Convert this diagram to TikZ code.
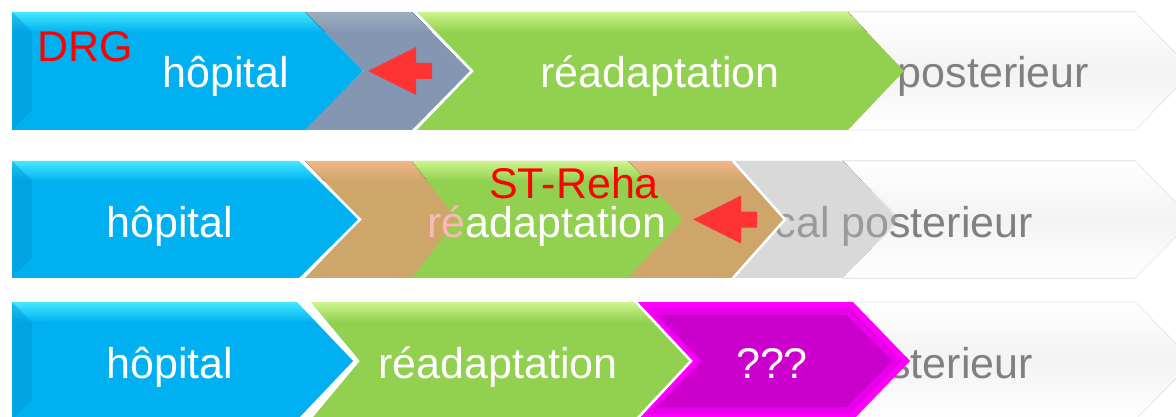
\documentclass[tikz,border=0pt]{standalone}
\usepackage{fontspec}
\setmainfont{Liberation Sans}
\definecolor{bluemain}{RGB}{0,176,240}
\definecolor{bluelight}{RGB}{70,232,255}
\definecolor{bluedark}{RGB}{0,150,212}
\definecolor{greenmain}{RGB}{146,208,80}
\definecolor{greenlight}{RGB}{205,245,140}
\definecolor{greymain}{RGB}{132,151,178}
\definecolor{greylight}{RGB}{158,174,194}
\definecolor{tanmain}{RGB}{206,166,106}
\definecolor{tanlight}{RGB}{242,182,140}
\definecolor{silver}{RGB}{217,217,217}
\definecolor{magout}{RGB}{255,0,255}
\definecolor{magmid}{RGB}{232,0,232}
\definecolor{magin}{RGB}{204,0,204}
\definecolor{txtgrey}{RGB}{128,128,128}
\definecolor{arrowred}{RGB}{255,51,51}
\definecolor{pinkish}{RGB}{250,185,185}
\definecolor{faint}{RGB}{236,236,236}
\definecolor{paleband}{RGB}{243,243,243}
% chevron path: x1, x2 (top corners), top, bottom, notch depth, tip depth
\newcommand\chevp[6]{(#1,#3) -- (#2,#3) -- ({#2+#6},{(#3+#4)/2}) -- (#2,#4) -- (#1,#4) -- ({#1+#5},{(#3+#4)/2}) -- cycle}
% filled chevron with lighter top band: main, light, x1, x2, top, bottom, notch, tip
\newcommand\chev[8]{%
  \begin{scope}
    \clip \chevp{#3}{#4}{#5}{#6}{#7}{#8};
    \fill[#1] (#3,#5) rectangle ({#4+#8},#6);
    \fill[top color=#2, bottom color=#1] (#3,#5) rectangle ({#4+#8},{#5+20});
  \end{scope}}
\newcommand\lightchev[4]{%
  \fill[top color=white, bottom color=white, middle color=paleband] \chevp{#1}{#2}{#3}{#4}{58}{58};
  \draw[faint, line width=1pt] (#1,#3) -- (#2,#3) -- ({#2+58},{(#3+#4)/2}) -- (#2,#4) -- (#1,#4);}
\newcommand\leftarrowshape[2]{%
  \fill[arrowred] (#1,#2) -- ({#1+48},{#2-24}) -- ({#1+48},{#2-8}) -- ({#1+64},{#2-8}) -- ({#1+64},{#2+8}) -- ({#1+48},{#2+8}) -- ({#1+48},{#2+24}) -- cycle;}
\tikzset{
  lbl/.style={font=\fontsize{43}{50}\selectfont, inner sep=0pt, anchor=base, text=white},
  greylbl/.style={lbl, text=txtgrey},
  redlbl/.style={lbl, text=red},
  sepline/.style={white, line width=2.5pt, line join=miter},
}
\begin{document}
\begin{tikzpicture}[x=1pt,y=-1pt]
\useasboundingbox (0,0) rectangle (1176,417);
\clip (0,0) rectangle (1176,417);
\fill[white] (0,0) rectangle (1176,417);

% ---------------- Row 1 ----------------
\lightchev{800}{1135}{12}{130}
\node[greylbl] (p1) at (993.5,88) {posterieur};
\chev{greymain}{greylight}{305}{412}{12}{130}{58}{58}
\chev{greenmain}{greenlight}{415}{848}{12}{130}{57}{56}
\draw[sepline] (414,11) -- (472,71) -- (414,131);
\chev{bluemain}{bluelight}{12}{305}{12}{130}{0}{58}
\fill[bluedark, opacity=.45] (12,12) -- (32,32) -- (32,110) -- (12,130) -- cycle;
\leftarrowshape{368}{71}
\node[redlbl] (drg) at (85,62) {DRG};
\node[lbl] (h1) at (226,88) {hôpital};
\node[lbl] (r1) at (660,88) {réadaptation};

% ---------------- Row 2 ----------------
\lightchev{842}{1135}{161}{278}
\chev{silver}{silver}{733}{843}{161}{278}{52}{55}
\node[greylbl, anchor=base east] (p2) at (1033,237) {cal posterieur};
\fill[silver, opacity=.3] \chevp{733}{843}{161}{278}{52}{55};
\chev{tanmain}{tanlight}{305}{733}{161}{278}{56}{52}
\draw[sepline] (733,161) -- (785,219.5) -- (733,278);
\chev{greenmain}{greenlight}{412}{628}{161}{278}{45}{55}
\chev{bluemain}{bluelight}{12}{300}{161}{278}{0}{60}
\fill[bluedark, opacity=.45] (12,161) -- (32,181) -- (32,258) -- (12,278) -- cycle;
\draw[sepline] (300,160) -- (360,219.5) -- (300,279);
\leftarrowshape{693}{219.5}
\node[redlbl] (st) at (574,198) {ST-Reha};
\node[lbl] (r2) at (547,237) {{\color{pinkish}ré}adaptation};
\node[lbl] (h2) at (170,237) {hôpital};

% ---------------- Row 3 ----------------
\lightchev{800}{1135}{302}{420}
\node[greylbl, anchor=base east] (p3) at (1033,378) {posterieur};
\fill[magout] \chevp{635}{853}{302}{420}{56}{57};
\fill[magmid] \chevp{647}{850}{308}{414}{51}{52};
\fill[magin] \chevp{658}{846}{315}{407}{45}{46};
\chev{greenmain}{greenlight}{308}{635}{302}{420}{50}{56}
\draw[sepline] (635,301) -- (691,361) -- (635,421);
\draw[sepline] (308,301) -- (358,361) -- (308,421);
\chev{bluemain}{bluelight}{12}{298}{302}{420}{0}{57}
\fill[bluedark, opacity=.45] (12,302) -- (32,322) -- (32,400) -- (12,420) -- cycle;
\draw[sepline] (298,301) -- (355,361) -- (298,421);
\node[lbl] (h3) at (170,378) {hôpital};
\node[lbl] (r3) at (498,378) {réadaptation};
\node[lbl] (q3) at (772,378) {???};
\end{tikzpicture}
\end{document}
